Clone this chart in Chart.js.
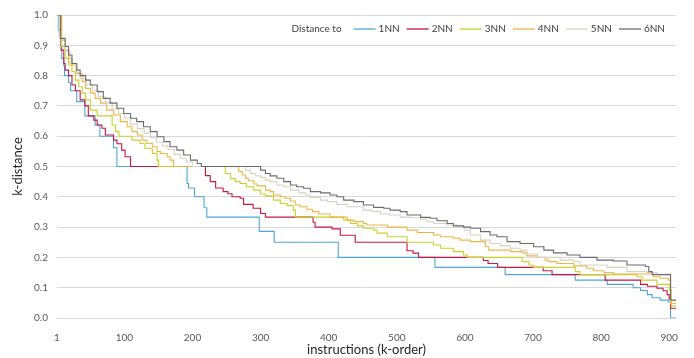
<!DOCTYPE html>
<html>
<head>
<meta charset="utf-8">
<script src="https://cdn.jsdelivr.net/npm/chart.js@4.4.1/dist/chart.umd.min.js"></script>
<style>
  html, body { margin: 0; padding: 0; background: #fff; }
  #kdist { display: block; }
</style>
</head>
<body>
<canvas id="kdist" width="694" height="358"></canvas>
<script>
// x axis ticks (k-order) and series names
const xTicks = [1, 100, 200, 300, 400, 500, 600, 700, 800, 900];
const seriesNames = ['1NN', '2NN', '3NN', '4NN', '5NN', '6NN'];

// step series: [instruction where the step starts, k-distance]
const dist1NN = [[1,1.0],[3,0.95],[6,0.9],[8,0.857],[11,0.833],[12,0.8],[18,0.778],[21,0.75],[30,0.714],[42,0.667],[57,0.636],[64,0.6],[84,0.562],[89,0.5],[192,0.444],[194,0.429],[203,0.4],[217,0.364],[221,0.333],[298,0.286],[320,0.25],[414,0.2],[556,0.167],[659,0.143],[762,0.125],[809,0.111],[847,0.1],[858,0.091],[868,0.077],[875,0.067],[887,0.059],[899,0.053],[902,0],[910,0]];
const dist2NN = [[1,1.0],[7,0.884],[11,0.84],[13,0.818],[18,0.8],[23,0.769],[28,0.75],[35,0.72],[42,0.7],[47,0.667],[55,0.653],[60,0.637],[67,0.626],[72,0.604],[84,0.587],[89,0.575],[96,0.554],[101,0.532],[109,0.5],[219,0.47],[226,0.45],[234,0.429],[245,0.417],[252,0.41],[258,0.4],[270,0.395],[275,0.375],[289,0.362],[300,0.345],[307,0.333],[377,0.316],[380,0.3],[405,0.294],[417,0.273],[439,0.25],[515,0.222],[524,0.214],[532,0.2],[627,0.19],[634,0.18],[648,0.167],[715,0.156],[728,0.143],[806,0.125],[858,0.111],[868,0.105],[882,0.098],[891,0.09],[897,0.077],[900,0.063],[902,0.032],[910,0.032]];
const dist3NN = [[1,1.0],[7,0.896],[13,0.857],[18,0.835],[23,0.813],[28,0.785],[33,0.763],[38,0.742],[43,0.72],[50,0.686],[60,0.667],[82,0.637],[87,0.615],[92,0.6],[111,0.587],[123,0.576],[130,0.56],[141,0.543],[148,0.521],[150,0.5],[248,0.477],[256,0.46],[263,0.45],[270,0.444],[279,0.433],[290,0.422],[300,0.409],[307,0.403],[319,0.389],[329,0.378],[339,0.371],[348,0.356],[351,0.333],[422,0.323],[432,0.312],[442,0.304],[451,0.296],[466,0.29],[471,0.28],[486,0.268],[515,0.25],[554,0.241],[564,0.23],[583,0.219],[598,0.208],[604,0.2],[684,0.186],[694,0.175],[701,0.167],[762,0.153],[769,0.143],[853,0.136],[860,0.125],[882,0.111],[900,0.092],[903,0.04],[910,0.04]];
const dist4NN = [[1,1.0],[8,0.917],[13,0.884],[18,0.857],[23,0.835],[30,0.807],[38,0.78],[43,0.758],[50,0.742],[57,0.725],[65,0.709],[74,0.686],[84,0.67],[94,0.648],[104,0.631],[111,0.615],[119,0.604],[126,0.587],[133,0.576],[141,0.565],[148,0.549],[153,0.543],[163,0.532],[167,0.521],[172,0.5],[268,0.483],[273,0.472],[278,0.461],[282,0.453],[290,0.442],[295,0.436],[307,0.422],[314,0.417],[319,0.406],[329,0.4],[336,0.395],[344,0.386],[351,0.373],[358,0.367],[368,0.359],[376,0.351],[385,0.343],[402,0.333],[427,0.323],[437,0.318],[451,0.312],[456,0.307],[486,0.3],[515,0.29],[530,0.282],[554,0.274],[564,0.268],[583,0.263],[593,0.257],[608,0.252],[630,0.235],[635,0.224],[667,0.219],[684,0.215],[691,0.205],[706,0.2],[718,0.191],[723,0.186],[735,0.18],[760,0.172],[779,0.164],[789,0.156],[804,0.15],[818,0.145],[877,0.136],[887,0.131],[899,0.125],[902,0.048],[910,0.048]];
const dist5NN = [[1,1.0],[4,0.93],[8,0.9],[13,0.88],[20,0.84],[29,0.81],[35,0.79],[44,0.77],[53,0.75],[62,0.73],[72,0.71],[82,0.69],[91,0.675],[100,0.66],[109,0.64],[119,0.625],[129,0.61],[138,0.595],[147,0.58],[156,0.568],[164,0.556],[173,0.54],[182,0.527],[191,0.515],[200,0.5],[278,0.488],[285,0.477],[292,0.469],[300,0.464],[307,0.455],[314,0.45],[324,0.439],[334,0.433],[344,0.422],[356,0.413],[366,0.406],[373,0.398],[388,0.389],[398,0.384],[412,0.375],[427,0.367],[451,0.356],[464,0.351],[476,0.343],[490,0.34],[505,0.333],[520,0.331],[535,0.326],[544,0.318],[554,0.312],[574,0.307],[588,0.3],[600,0.29],[608,0.274],[623,0.257],[637,0.246],[652,0.238],[667,0.23],[681,0.224],[691,0.211],[706,0.2],[740,0.191],[760,0.186],[769,0.175],[809,0.167],[838,0.153],[867,0.15],[882,0.144],[902,0.056],[910,0.056]];
const dist6NN = [[1,1.0],[6,0.923],[13,0.896],[18,0.868],[23,0.84],[30,0.818],[35,0.8],[43,0.785],[50,0.769],[60,0.747],[69,0.725],[79,0.709],[89,0.692],[99,0.675],[109,0.659],[118,0.648],[128,0.631],[138,0.615],[148,0.598],[158,0.582],[167,0.565],[177,0.554],[187,0.538],[197,0.521],[207,0.51],[213,0.5],[300,0.488],[307,0.477],[314,0.469],[324,0.461],[334,0.45],[344,0.439],[353,0.433],[363,0.428],[373,0.417],[388,0.413],[402,0.406],[412,0.4],[422,0.389],[437,0.384],[451,0.373],[466,0.365],[481,0.362],[490,0.356],[505,0.351],[515,0.34],[535,0.332],[549,0.329],[559,0.321],[574,0.312],[583,0.304],[598,0.3],[608,0.296],[623,0.285],[637,0.274],[647,0.268],[662,0.252],[681,0.246],[701,0.235],[716,0.224],[730,0.215],[750,0.208],[769,0.2],[794,0.191],[818,0.188],[838,0.175],[865,0.17],[870,0.153],[875,0.143],[902,0.059],[910,0.059]];

const allSeries = [dist1NN, dist2NN, dist3NN, dist4NN, dist5NN, dist6NN];
const colors = ['#4fa6d8', '#c5173f', '#c8d22a', '#f0b545', '#d8d4c1', '#6a6c70'];
const fontFamily = 'Lato, "Liberation Sans", sans-serif';

// legend drawn inside the plot area, in one row, right aligned
const insideLegend = {
  id: 'insideLegend',
  afterDraw(chart) {
    const ctx = chart.ctx;
    const area = chart.chartArea;
    const sets = chart.data.datasets;
    const lineW = 22, textGap = 3, itemGap = 7;
    const y = area.top + 14;
    ctx.save();
    ctx.font = '10px ' + fontFamily;
    ctx.textBaseline = 'middle';
    // walk from the right edge to the left
    let x = area.right - 11;
    for (let i = sets.length - 1; i >= 0; i--) {
      const w = ctx.measureText(sets[i].label).width;
      ctx.fillStyle = '#404040';
      ctx.textAlign = 'left';
      ctx.fillText(sets[i].label, x - w, y);
      x -= w + textGap;
      ctx.strokeStyle = sets[i].borderColor;
      ctx.lineWidth = 1.3;
      ctx.beginPath();
      ctx.moveTo(x - lineW, y);
      ctx.lineTo(x, y);
      ctx.stroke();
      x -= lineW + itemGap;
    }
    ctx.fillStyle = '#404040';
    ctx.textAlign = 'right';
    ctx.fillText('Distance to', x - 5, y);
    ctx.restore();
  }
};

new Chart(document.getElementById('kdist'), {
  type: 'line',
  data: {
    datasets: allSeries.map((pairs, i) => ({
      label: seriesNames[i],
      data: pairs.map(p => ({ x: p[0], y: p[1] })),
      borderColor: colors[i],
      backgroundColor: colors[i],
      borderWidth: 1.1,
      pointRadius: 0,
      stepped: true,
      fill: false,
      order: seriesNames.length - i
    }))
  },
  options: {
    responsive: false,
    animation: false,
    layout: { padding: { left: 4, right: 18, top: 15, bottom: 0 } },
    scales: {
      x: {
        type: 'linear',
        min: 1,
        max: 910,
        afterBuildTicks: s => { s.ticks = xTicks.map(v => ({ value: v })); },
        afterFit: s => { s.height = 40; },
        grid: { display: false },
        border: { display: false },
        ticks: {
          padding: 6, color: '#595959', maxRotation: 0, autoSkip: false,
          font: { family: fontFamily, size: 10 },
          callback: v => String(v)
        },
        title: {
          display: true, text: 'instructions (k-order)', color: '#262626',
          font: { family: fontFamily, size: 13 }, padding: { top: 0, bottom: 0 }
        }
      },
      y: {
        min: 0,
        max: 1,
        afterFit: s => { s.width = 53; },
        grid: { color: '#d9d9d9', drawTicks: false },
        border: { display: false },
        ticks: {
          stepSize: 0.1, padding: 9, color: '#595959',
          font: { family: fontFamily, size: 10 },
          callback: v => v.toFixed(1)
        },
        title: {
          display: true, text: 'k-distance', color: '#262626',
          font: { family: fontFamily, size: 13 }, padding: { top: 6, bottom: 0 }
        }
      }
    },
    plugins: {
      legend: { display: false },
      tooltip: { enabled: false }
    }
  },
  plugins: [insideLegend]
});
</script>
</body>
</html>
